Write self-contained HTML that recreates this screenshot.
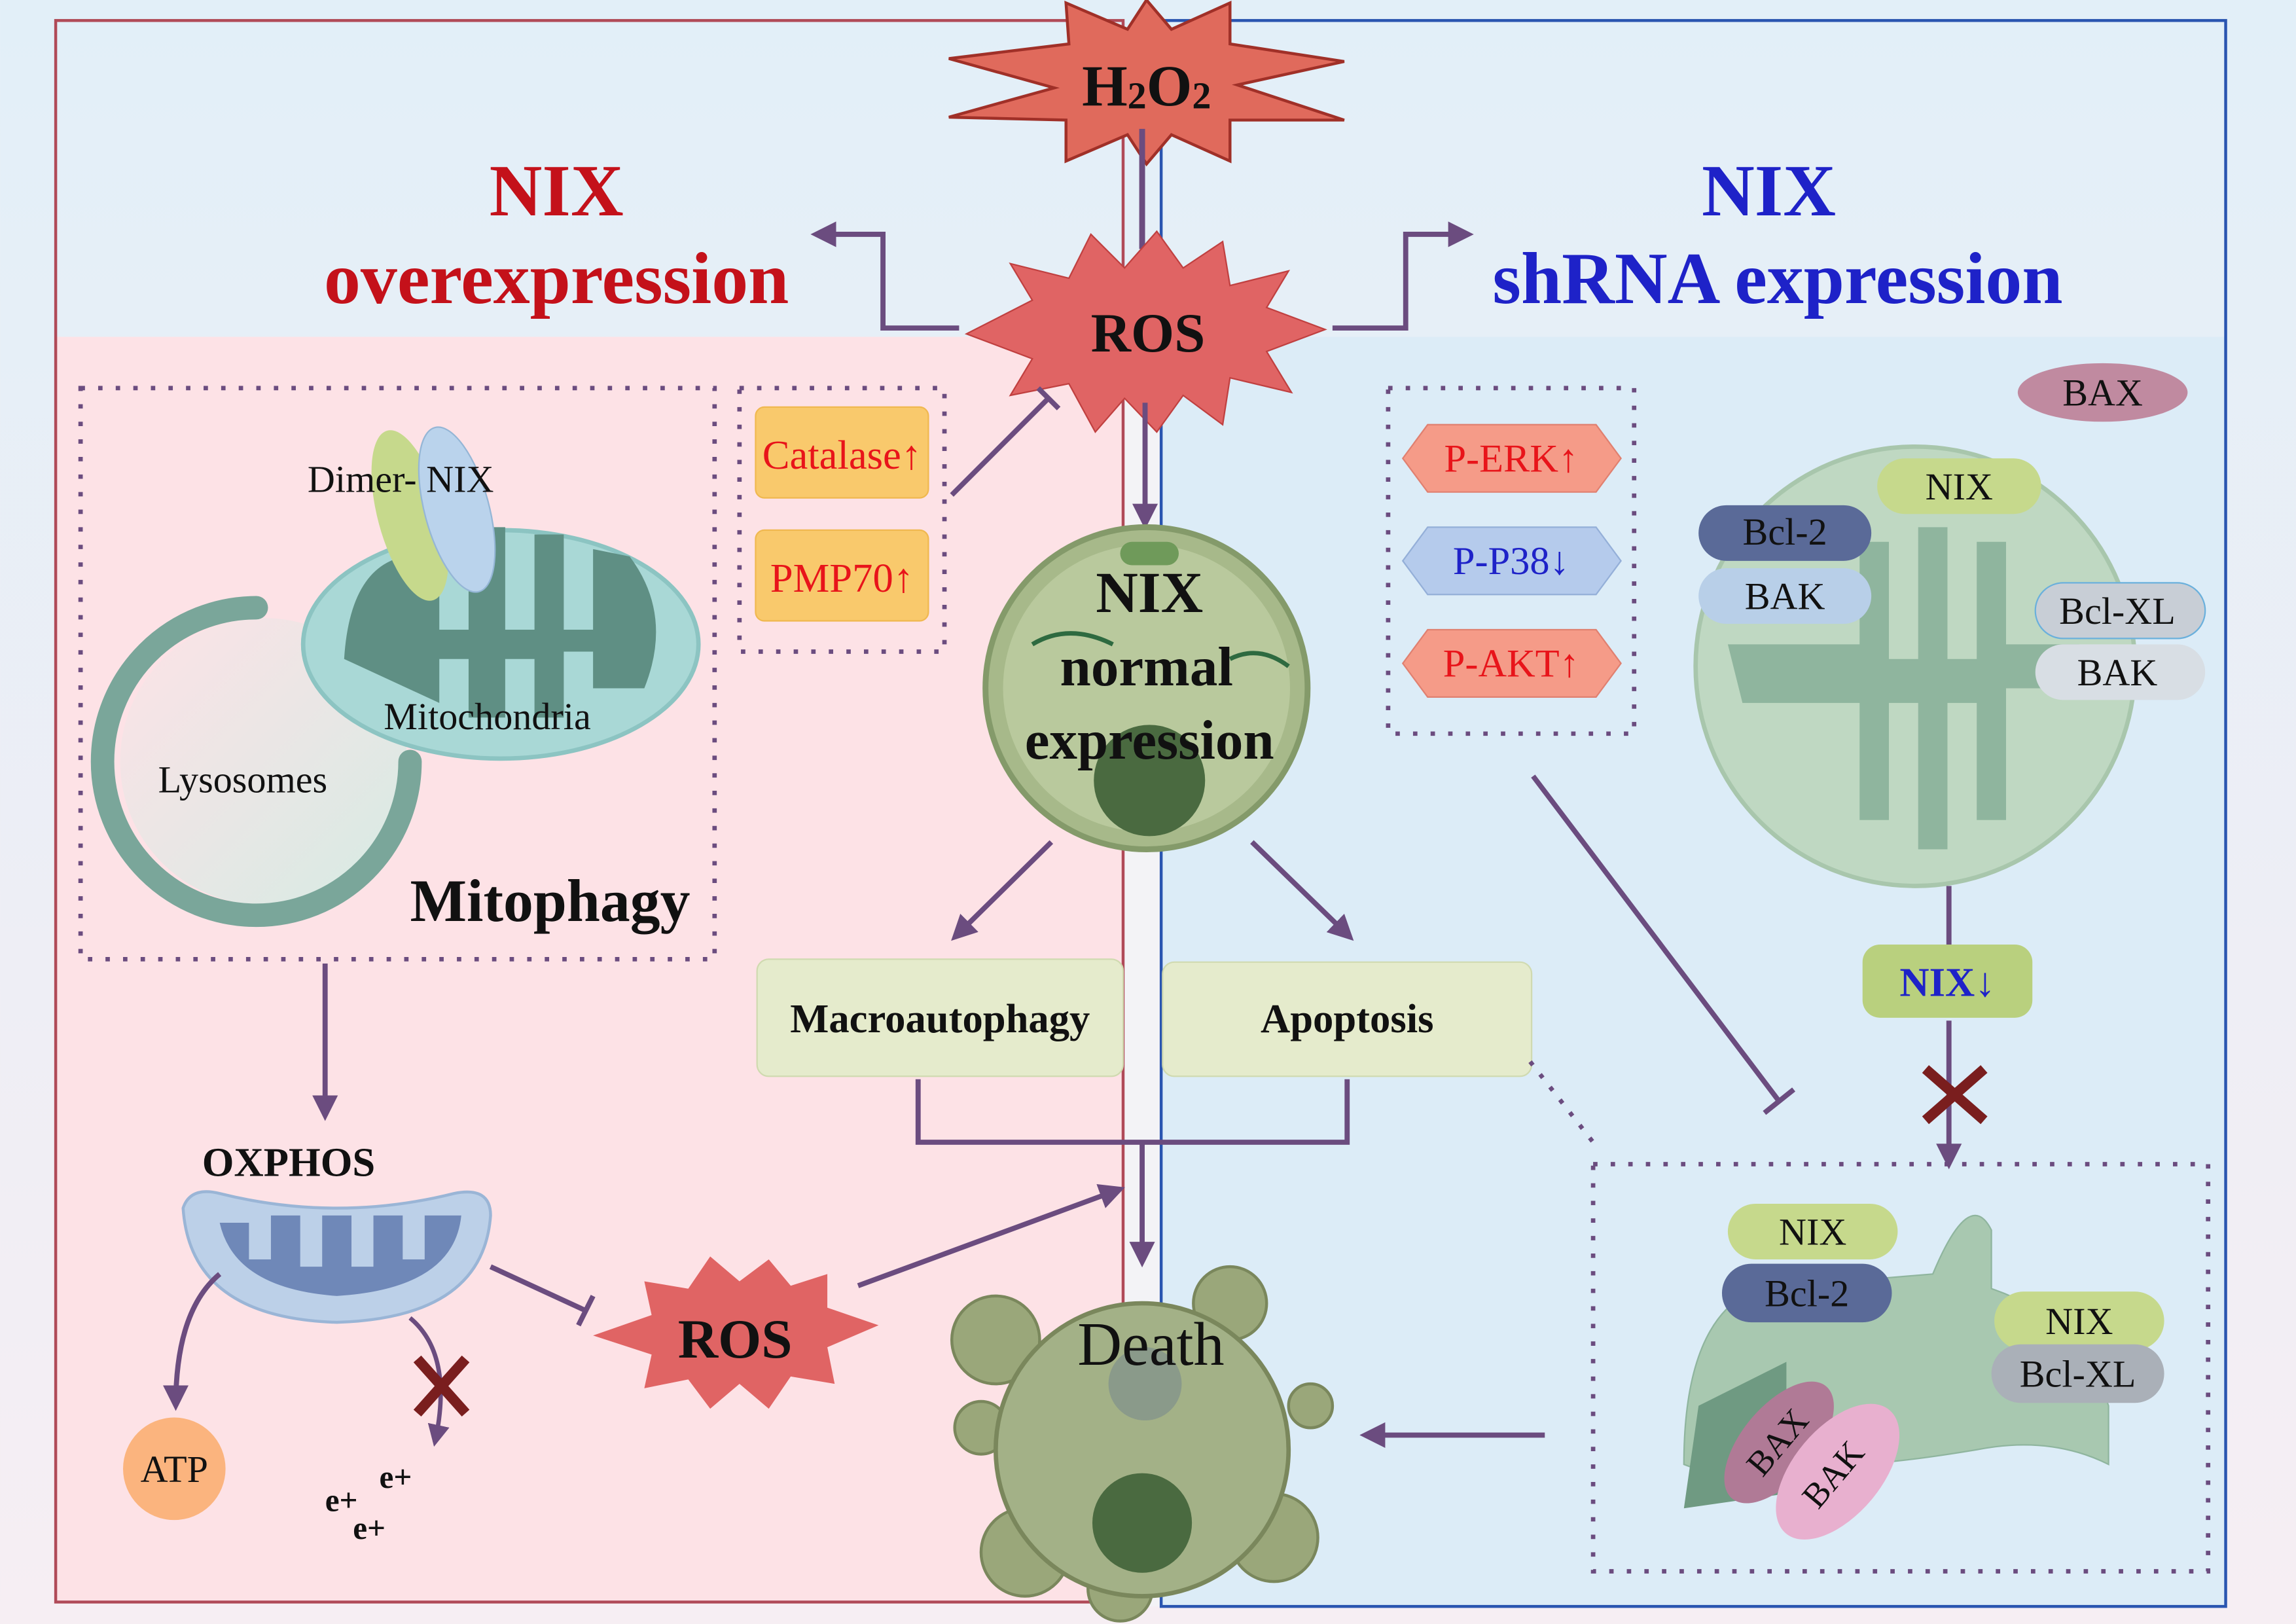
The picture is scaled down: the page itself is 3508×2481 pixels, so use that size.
<!DOCTYPE html>
<html><head><meta charset="utf-8"><style>
html,body{margin:0;padding:0;background:#f3eef2}
svg{display:block}
text{font-family:"Liberation Serif",serif}
</style></head><body>
<svg width="3508" height="2481" viewBox="0 0 1568 1109" xmlns="http://www.w3.org/2000/svg">
<defs>
<marker id="ah" viewBox="0 0 10 10" refX="8" refY="5" markerWidth="5" markerHeight="5" orient="auto"><path d="M0,0 L10,5 L0,10 z" fill="#6b4c7f"/></marker>
<linearGradient id="bg" x1="0" y1="0" x2="0" y2="1"><stop offset="0" stop-color="#e2eff8"/><stop offset="1" stop-color="#f6eef3"/></linearGradient>
<linearGradient id="lys" x1="0" y1="0" x2="1" y2="1"><stop offset="0" stop-color="#fde2e6"/><stop offset="1" stop-color="#d6ebe4"/></linearGradient>
</defs>
<rect width="1568" height="1109" fill="url(#bg)"/>
<rect x="38" y="230" width="729" height="864" fill="#fde2e6"/>
<rect x="793" y="230" width="727" height="867" fill="#dcecf7"/>
<rect x="767" y="230" width="26" height="867" fill="#f3f3f6"/>
<rect x="38" y="14" width="729" height="1080" fill="none" stroke="#b04a58" stroke-width="2"/>
<rect x="793" y="14" width="727" height="1083" fill="none" stroke="#2a55b0" stroke-width="2"/>

<!-- H2O2 star -->
<polygon points="648,40 730,30 728,2 770,20 783,0 800,20 840,2 840,30 918,42 845,58 918,82 840,82 840,110 800,92 783,112 770,92 728,110 728,82 648,80 720,60" fill="#e06a5c" stroke="#a03028" stroke-width="2"/>
<text x="783" y="72" font-size="40" font-weight="bold" text-anchor="middle" fill="#111">H<tspan font-size="26" dy="2">2</tspan><tspan dy="-2">O</tspan><tspan font-size="26" dy="2">2</tspan></text>
<line x1="780" y1="88" x2="780" y2="170" stroke="#6b4c7f" stroke-width="4"/>

<text x="380" y="147" font-size="50" font-weight="bold" fill="#c4111a" text-anchor="middle">NIX</text>
<text x="380" y="207" font-size="50" font-weight="bold" fill="#c4111a" text-anchor="middle">overexpression</text>
<text x="1208" y="147" font-size="50" font-weight="bold" fill="#1e22c8" text-anchor="middle">NIX</text>
<text x="1214" y="207" font-size="50" font-weight="bold" fill="#1e22c8" text-anchor="middle">shRNA expression</text>

<!-- ROS star -->
<polygon points="660,228 705,205 690,180 730,190 745,160 768,183 790,158 808,183 835,165 840,195 880,185 865,210 905,225 865,240 882,268 840,258 835,290 808,270 790,295 768,272 748,295 730,262 690,270 705,245" fill="#e06464" stroke="#c04040" stroke-width="1"/>
<text x="784" y="240" font-size="38" font-weight="bold" text-anchor="middle" fill="#111">ROS</text>
<polyline points="655,224 603,224 603,160 557,160" fill="none" stroke="#6b4c7f" stroke-width="3.5" marker-end="url(#ah)"/>
<polyline points="910,224 960,224 960,160 1003,160" fill="none" stroke="#6b4c7f" stroke-width="3.5" marker-end="url(#ah)"/>
<line x1="782" y1="275" x2="782" y2="358" stroke="#6b4c7f" stroke-width="3.5" marker-end="url(#ah)"/>

<!-- Mitophagy box -->
<rect x="55" y="265" width="433" height="390" fill="none" stroke="#6b4c7f" stroke-width="3" stroke-dasharray="3,9"/>
<circle cx="180" cy="520" r="98" fill="url(#lys)"/>
<path d="M175,415 A105,105 0 1 0 280,520" fill="none" stroke="#7aa69a" stroke-width="16" stroke-linecap="round"/>
<ellipse cx="342" cy="440" rx="135" ry="78" fill="#a9d8d6" stroke="#8cc4c2" stroke-width="3"/>
<path d="M235,450 Q240,370 300,380 L300,430 L320,430 L320,360 L345,360 L345,430 L365,430 L365,365 L385,365 L385,430 L405,430 L405,375 L430,380 Q460,420 440,470 L405,470 L405,445 L385,445 L385,490 L365,490 L365,450 L345,450 L345,490 L320,490 L320,450 L300,450 L300,480 Z" fill="#5f8f84"/>
<ellipse cx="280" cy="352" rx="22" ry="60" fill="#c6d98c" transform="rotate(-15 280 352)"/>
<ellipse cx="312" cy="348" rx="22" ry="58" fill="#bad3ec" stroke="#95b6d6" transform="rotate(-15 312 348)"/>
<text x="210" y="336" font-size="26" fill="#111">Dimer- NIX</text>
<text x="262" y="498" font-size="26" fill="#111">Mitochondria</text>
<text x="108" y="541" font-size="26" fill="#111">Lysosomes</text>
<text x="280" y="629" font-size="41" font-weight="bold" fill="#111">Mitophagy</text>

<!-- Catalase box -->
<rect x="505" y="265" width="140" height="180" fill="none" stroke="#6b4c7f" stroke-width="3" stroke-dasharray="3,9"/>
<rect x="516" y="278" width="118" height="62" rx="6" fill="#f9c96c" stroke="#f0b850"/>
<rect x="516" y="362" width="118" height="62" rx="6" fill="#f9c96c" stroke="#f0b850"/>
<text x="575" y="320" font-size="28" fill="#e8141a" text-anchor="middle">Catalase↑</text>
<text x="575" y="404" font-size="28" fill="#e8141a" text-anchor="middle">PMP70↑</text>
<line x1="650" y1="338" x2="716" y2="272" stroke="#6b4c7f" stroke-width="3.5"/>
<line x1="709" y1="265" x2="723" y2="279" stroke="#6b4c7f" stroke-width="3.5"/>

<!-- NIX normal cell -->
<circle cx="783" cy="470" r="110" fill="#a7b98a" stroke="#849a6a" stroke-width="4"/>
<circle cx="783" cy="470" r="98" fill="#b9c99d"/>
<circle cx="785" cy="533" r="38" fill="#4a6a40"/>
<rect x="765" y="370" width="40" height="16" rx="8" fill="#6f9a5a"/>
<path d="M705,440 Q730,425 760,440 M840,450 Q860,440 880,455" stroke="#2e6a40" stroke-width="3" fill="none"/>
<text x="785" y="418" font-size="40" font-weight="bold" text-anchor="middle" fill="#111">NIX</text>
<text x="783" y="468" font-size="38" font-weight="bold" text-anchor="middle" fill="#111">normal</text>
<text x="785" y="518" font-size="38" font-weight="bold" text-anchor="middle" fill="#111">expression</text>
<line x1="718" y1="575" x2="652" y2="640" stroke="#6b4c7f" stroke-width="3.5" marker-end="url(#ah)"/>
<line x1="855" y1="575" x2="922" y2="640" stroke="#6b4c7f" stroke-width="3.5" marker-end="url(#ah)"/>

<rect x="517" y="655" width="250" height="80" rx="8" fill="#e5ebcc" stroke="#d0dab0"/>
<rect x="794" y="657" width="252" height="78" rx="8" fill="#e5ebcc" stroke="#d0dab0"/>
<text x="642" y="705" font-size="28" font-weight="bold" text-anchor="middle" fill="#111">Macroautophagy</text>
<text x="920" y="705" font-size="28" font-weight="bold" text-anchor="middle" fill="#111">Apoptosis</text>
<polyline points="627,737 627,780 920,780 920,737" fill="none" stroke="#6b4c7f" stroke-width="3.5"/>
<line x1="780" y1="780" x2="780" y2="862" stroke="#6b4c7f" stroke-width="3.5" marker-end="url(#ah)"/>
<line x1="1045" y1="725" x2="1088" y2="780" stroke="#6b4c7f" stroke-width="3" stroke-dasharray="3,8"/>

<!-- Left lower -->
<line x1="222" y1="658" x2="222" y2="762" stroke="#6b4c7f" stroke-width="3.5" marker-end="url(#ah)"/>
<text x="138" y="803" font-size="28" font-weight="bold" fill="#111">OXPHOS</text>
<path d="M125,825 Q130,810 150,815 Q230,835 310,815 Q335,810 335,830 Q330,900 230,903 Q130,900 125,825 Z" fill="#bcd0e8" stroke="#9ab5d6" stroke-width="2"/>
<path d="M150,835 L170,835 L170,860 L185,860 L185,830 L205,830 L205,865 L220,865 L220,830 L240,830 L240,865 L255,865 L255,830 L275,830 L275,860 L290,860 L290,830 L315,830 Q310,880 230,885 Q160,880 150,835 Z" fill="#6f88b8"/>
<path d="M150,870 Q120,895 120,960" fill="none" stroke="#6b4c7f" stroke-width="3.5" marker-end="url(#ah)"/>
<path d="M280,900 Q310,925 297,985" fill="none" stroke="#6b4c7f" stroke-width="3" marker-end="url(#ah)"/>
<path d="M285,928 L318,965 M318,928 L285,965" stroke="#7a1e1e" stroke-width="7"/>
<circle cx="119" cy="1003" r="35" fill="#fbb47e"/>
<text x="119" y="1012" font-size="26" text-anchor="middle" fill="#111">ATP</text>
<text x="222" y="1032" font-size="22" font-weight="bold" fill="#111">e+</text>
<text x="259" y="1016" font-size="22" font-weight="bold" fill="#111">e+</text>
<text x="241" y="1051" font-size="22" font-weight="bold" fill="#111">e+</text>
<line x1="335" y1="865" x2="400" y2="895" stroke="#6b4c7f" stroke-width="3.5"/>
<line x1="395" y1="905" x2="405" y2="885" stroke="#6b4c7f" stroke-width="3.5"/>
<polygon points="405,912 445,898 440,875 470,880 485,858 505,875 525,860 540,878 565,870 565,893 600,905 565,920 570,945 540,940 525,962 505,945 485,962 470,942 440,948 445,925" fill="#e06464"/>
<text x="502" y="927" font-size="38" font-weight="bold" text-anchor="middle" fill="#111">ROS</text>
<line x1="586" y1="878" x2="765" y2="812" stroke="#6b4c7f" stroke-width="3.5" marker-end="url(#ah)"/>

<!-- Death cell -->
<g fill="#9aa77a" stroke="#7a875c" stroke-width="2">
<circle cx="680" cy="915" r="30"/><circle cx="840" cy="890" r="25"/><circle cx="700" cy="1060" r="30"/><circle cx="870" cy="1050" r="30"/><circle cx="670" cy="975" r="18"/><circle cx="895" cy="960" r="15"/><circle cx="765" cy="1085" r="22"/>
</g>
<circle cx="780" cy="990" r="100" fill="#a3b187" stroke="#7a875c" stroke-width="3"/>
<circle cx="780" cy="1040" r="34" fill="#4a6a40"/>
<circle cx="782" cy="945" r="25" fill="#8a9a8a"/>
<text x="786" y="932" font-size="42" text-anchor="middle" fill="#111">Death</text>
<line x1="1055" y1="980" x2="932" y2="980" stroke="#6b4c7f" stroke-width="3.5" marker-end="url(#ah)"/>

<!-- Right side -->
<rect x="948" y="265" width="168" height="236" fill="none" stroke="#6b4c7f" stroke-width="3" stroke-dasharray="3,9"/>
<polygon points="958,313 975,290 1090,290 1107,313 1090,336 975,336" fill="#f59b88" stroke="#e08070"/>
<polygon points="958,383 975,360 1090,360 1107,383 1090,406 975,406" fill="#b5cbec" stroke="#94afd8"/>
<polygon points="958,453 975,430 1090,430 1107,453 1090,476 975,476" fill="#f59b88" stroke="#e08070"/>
<text x="1032" y="322" font-size="27" text-anchor="middle" fill="#e8141a">P-ERK↑</text>
<text x="1032" y="392" font-size="27" text-anchor="middle" fill="#1e22c8">P-P38↓</text>
<text x="1032" y="462" font-size="27" text-anchor="middle" fill="#e8141a">P-AKT↑</text>
<line x1="1047" y1="530" x2="1215" y2="752" stroke="#6b4c7f" stroke-width="3.5"/>
<line x1="1205" y1="760" x2="1225" y2="744" stroke="#6b4c7f" stroke-width="3.5"/>

<ellipse cx="1436" cy="268" rx="58" ry="20" fill="#c08aa0"/>
<text x="1436" y="277" font-size="26" text-anchor="middle" fill="#111">BAX</text>
<circle cx="1308" cy="455" r="150" fill="#bfd8c2" stroke="#a8c6ac" stroke-width="3"/>
<path d="M1180,440 L1270,440 L1270,370 L1290,370 L1290,450 L1310,450 L1310,360 L1330,360 L1330,450 L1350,450 L1350,370 L1370,370 L1370,440 L1420,440 L1420,470 L1370,470 L1370,560 L1350,560 L1350,480 L1330,480 L1330,580 L1310,580 L1310,480 L1290,480 L1290,560 L1270,560 L1270,480 L1190,480 Z" fill="#8fb59e"/>
<rect x="1282" y="313" width="112" height="38" rx="19" fill="#c6d98c"/>
<text x="1338" y="341" font-size="26" text-anchor="middle" fill="#111">NIX</text>
<rect x="1160" y="345" width="118" height="38" rx="19" fill="#5a6a98"/>
<text x="1219" y="372" font-size="26" text-anchor="middle" fill="#111">Bcl-2</text>
<rect x="1160" y="388" width="118" height="38" rx="19" fill="#b8cfe8"/>
<text x="1219" y="416" font-size="26" text-anchor="middle" fill="#111">BAK</text>
<rect x="1390" y="398" width="116" height="38" rx="19" fill="#c8ced6" stroke="#6ab0dc"/>
<text x="1446" y="426" font-size="26" text-anchor="middle" fill="#111">Bcl-XL</text>
<rect x="1390" y="440" width="116" height="38" rx="19" fill="#d8dee4"/>
<text x="1446" y="468" font-size="26" text-anchor="middle" fill="#111">BAK</text>
<line x1="1331" y1="605" x2="1331" y2="645" stroke="#6b4c7f" stroke-width="3.5"/>
<rect x="1272" y="645" width="116" height="50" rx="12" fill="#b9d07e"/>
<text x="1330" y="680" font-size="28" font-weight="bold" text-anchor="middle" fill="#1e22c8">NIX↓</text>
<line x1="1331" y1="697" x2="1331" y2="795" stroke="#6b4c7f" stroke-width="3.5" marker-end="url(#ah)"/>
<path d="M1315,730 L1355,765 M1355,730 L1315,765" stroke="#7a1e1e" stroke-width="7"/>
<rect x="1088" y="795" width="420" height="278" fill="none" stroke="#6b4c7f" stroke-width="3" stroke-dasharray="3,9"/>
<path d="M1150,1000 Q1150,900 1200,880 L1320,870 Q1345,810 1360,840 L1360,880 Q1420,900 1440,960 L1440,1000 Q1400,980 1350,990 Q1290,1000 1260,1000 Q1200,1020 1150,1000 Z" fill="#a8c8b0" stroke="#8fb59e"/>
<path d="M1160,960 L1220,930 L1220,1020 L1150,1030 Z" fill="#6f9a82"/>
<rect x="1180" y="822" width="116" height="38" rx="19" fill="#c6d98c"/>
<text x="1238" y="850" font-size="26" text-anchor="middle" fill="#111">NIX</text>
<rect x="1176" y="863" width="116" height="40" rx="20" fill="#5a6a98"/>
<text x="1234" y="892" font-size="26" text-anchor="middle" fill="#111">Bcl-2</text>
<rect x="1362" y="882" width="116" height="40" rx="20" fill="#c6d98c"/>
<text x="1420" y="911" font-size="26" text-anchor="middle" fill="#111">NIX</text>
<rect x="1360" y="918" width="118" height="40" rx="20" fill="#aab0b8"/>
<text x="1419" y="947" font-size="26" text-anchor="middle" fill="#111">Bcl-XL</text>
<ellipse cx="1215" cy="985" rx="25" ry="50" fill="#b07a96" transform="rotate(40 1215 985)"/>
<text x="1220" y="990" font-size="24" text-anchor="middle" fill="#111" transform="rotate(-50 1220 990)">BAX</text>
<ellipse cx="1255" cy="1005" rx="30" ry="55" fill="#e8b0cf" transform="rotate(40 1255 1005)"/>
<text x="1258" y="1012" font-size="24" text-anchor="middle" fill="#111" transform="rotate(-50 1258 1012)">BAK</text>
</svg>
</body></html>
